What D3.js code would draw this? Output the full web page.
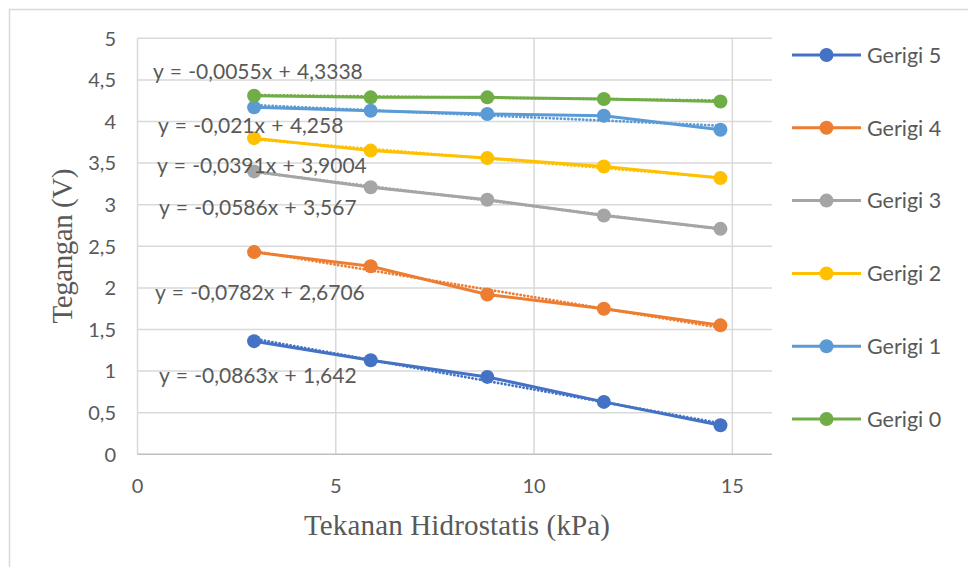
<!DOCTYPE html>
<html>
<head>
<meta charset="utf-8">
<script src="https://cdn.jsdelivr.net/npm/d3@7"></script>
<style>
  body { margin: 0; background: #fff; }
  svg { display: block; }
  text { font-family: Lato, "Open Sans", sans-serif; fill: #595959; }
</style>
</head>
<body>
<div class="chart"></div>
<script>
// data
var pressure = [2.94, 5.88, 8.82, 11.76, 14.7];
var seriesNames = ["Gerigi 5", "Gerigi 4", "Gerigi 3", "Gerigi 2", "Gerigi 1", "Gerigi 0"];
var gerigi5 = [1.36, 1.13, 0.93, 0.63, 0.35];
var gerigi4 = [2.43, 2.26, 1.92, 1.75, 1.55];
var gerigi3 = [3.40, 3.21, 3.06, 2.87, 2.71];
var gerigi2 = [3.80, 3.65, 3.56, 3.46, 3.32];
var gerigi1 = [4.17, 4.13, 4.09, 4.07, 3.90];
var gerigi0 = [4.31, 4.29, 4.29, 4.27, 4.24];
var slopes = [-0.0863, -0.0782, -0.0586, -0.0391, -0.021, -0.0055];
var intercepts = [1.642, 2.6706, 3.567, 3.9004, 4.258, 4.3338];
var colors = ["#4472C4", "#ED7D31", "#A5A5A5", "#FFC000", "#5B9BD5", "#70AD47"];
var xTicks = [0, 5, 10, 15];
var yTicks = [0, 0.5, 1, 1.5, 2, 2.5, 3, 3.5, 4, 4.5, 5];

// where the equation labels sit (left edge px, baseline px)
var labelPos = [[159, 383], [155, 300], [159, 215], [157, 173], [158, 133], [153, 79]];

var allValues = [gerigi5, gerigi4, gerigi3, gerigi2, gerigi1, gerigi0];

var width = 968, height = 567;
var plot = {left: 137.5, right: 772, top: 38.3, bottom: 454.3};

var svg = d3.select(".chart").append("svg")
    .attr("width", width)
    .attr("height", height);

// chart frame
svg.append("rect")
    .attr("x", 9.5).attr("y", 9.5)
    .attr("width", 980).attr("height", 600)
    .style("fill", "none")
    .style("stroke", "#D9D9D9")
    .style("stroke-width", 1.5);

var x = d3.scaleLinear().domain([0, 16]).range([plot.left, plot.right]);
var y = d3.scaleLinear().domain([0, 5]).range([plot.bottom, plot.top]);

var fmt = function(v) { return String(v).replace(".", ","); };

// gridlines
svg.append("g").selectAll("line.h")
    .data(yTicks.filter(function(d) { return d > 0; }))
    .enter().append("line")
    .attr("x1", plot.left).attr("x2", plot.right)
    .attr("y1", function(d) { return y(d); })
    .attr("y2", function(d) { return y(d); })
    .style("stroke", "#D9D9D9")
    .style("stroke-width", 1.5);

svg.append("g").selectAll("line.v")
    .data(xTicks)
    .enter().append("line")
    .attr("x1", function(d) { return x(d); })
    .attr("x2", function(d) { return x(d); })
    .attr("y1", plot.top).attr("y2", plot.bottom)
    .style("stroke", "#D9D9D9")
    .style("stroke-width", 1.5);

// x axis line
svg.append("line")
    .attr("x1", plot.left).attr("x2", plot.right)
    .attr("y1", y(0)).attr("y2", y(0))
    .style("stroke", "#BFBFBF")
    .style("stroke-width", 1.5);

// tick labels
svg.append("g").selectAll("text")
    .data(yTicks)
    .enter().append("text")
    .attr("x", 116)
    .attr("y", function(d) { return y(d); })
    .attr("dy", "0.36em")
    .attr("text-anchor", "end")
    .style("font-size", "20px")
    .text(fmt);

svg.append("g").selectAll("text")
    .data(xTicks)
    .enter().append("text")
    .attr("x", function(d) { return x(d); })
    .attr("y", 493)
    .attr("text-anchor", "middle")
    .style("font-size", "20px")
    .text(fmt);

// axis titles
svg.append("text")
    .attr("x", 457)
    .attr("y", 535)
    .attr("text-anchor", "middle")
    .attr("textLength", 306)
    .style("font-family", "'Liberation Serif', 'Times New Roman', serif")
    .style("font-size", "29px")
    .text("Tekanan Hidrostatis (kPa)");

svg.append("text")
    .attr("transform", "translate(72,246) rotate(-90)")
    .attr("text-anchor", "middle")
    .attr("textLength", 155)
    .style("font-family", "'Liberation Serif', 'Times New Roman', serif")
    .style("font-size", "29px")
    .text("Tegangan (V)");

var line = d3.line()
    .x(function(d) { return x(d[0]); })
    .y(function(d) { return y(d[1]); });

var series = seriesNames.map(function(name, i) {
    return {
        name: name,
        color: colors[i],
        points: pressure.map(function(p, j) { return [p, allValues[i][j]]; }),
        trend: [pressure[0], pressure[pressure.length - 1]].map(function(p) {
            return [p, slopes[i] * p + intercepts[i]];
        })
    };
});

var g = svg.selectAll(".series")
    .data(series)
    .enter().append("g")
    .attr("class", "series");

g.append("path")
    .attr("d", function(d) { return line(d.points); })
    .style("fill", "none")
    .style("stroke", function(d) { return d.color; })
    .style("stroke-width", 3)
    .style("stroke-linejoin", "round");

g.append("path")
    .attr("d", function(d) { return line(d.trend); })
    .style("fill", "none")
    .style("stroke", function(d) { return d.color; })
    .style("stroke-width", 2.8)
    .style("stroke-dasharray", "0.1 3.6")
    .style("stroke-linecap", "round");

g.selectAll("circle")
    .data(function(d) { return d.points.map(function(p) { return {p: p, c: d.color}; }); })
    .enter().append("circle")
    .attr("cx", function(d) { return x(d.p[0]); })
    .attr("cy", function(d) { return y(d.p[1]); })
    .attr("r", 7)
    .style("fill", function(d) { return d.c; });

// trendline equations
svg.append("g").selectAll("text")
    .data(series)
    .enter().append("text")
    .attr("x", function(d, i) { return labelPos[i][0]; })
    .attr("y", function(d, i) { return labelPos[i][1]; })
    .style("font-size", "21px")
    .style("word-spacing", "1px")
    .text(function(d, i) {
        return "y = " + fmt(slopes[i]) + "x + " + fmt(intercepts[i]);
    });

// legend
var legend = svg.append("g").selectAll("g")
    .data(series)
    .enter().append("g")
    .attr("transform", function(d, i) { return "translate(792," + (55 + i * 72.8) + ")"; });

legend.append("line")
    .attr("x1", 0).attr("x2", 69)
    .style("stroke", function(d) { return d.color; })
    .style("stroke-width", 3);

legend.append("circle")
    .attr("cx", 34.5)
    .attr("r", 7)
    .style("fill", function(d) { return d.color; });

legend.append("text")
    .attr("x", 75)
    .attr("dy", "0.36em")
    .style("font-size", "21.5px")
    .text(function(d) { return d.name; });
</script>
</body>
</html>
